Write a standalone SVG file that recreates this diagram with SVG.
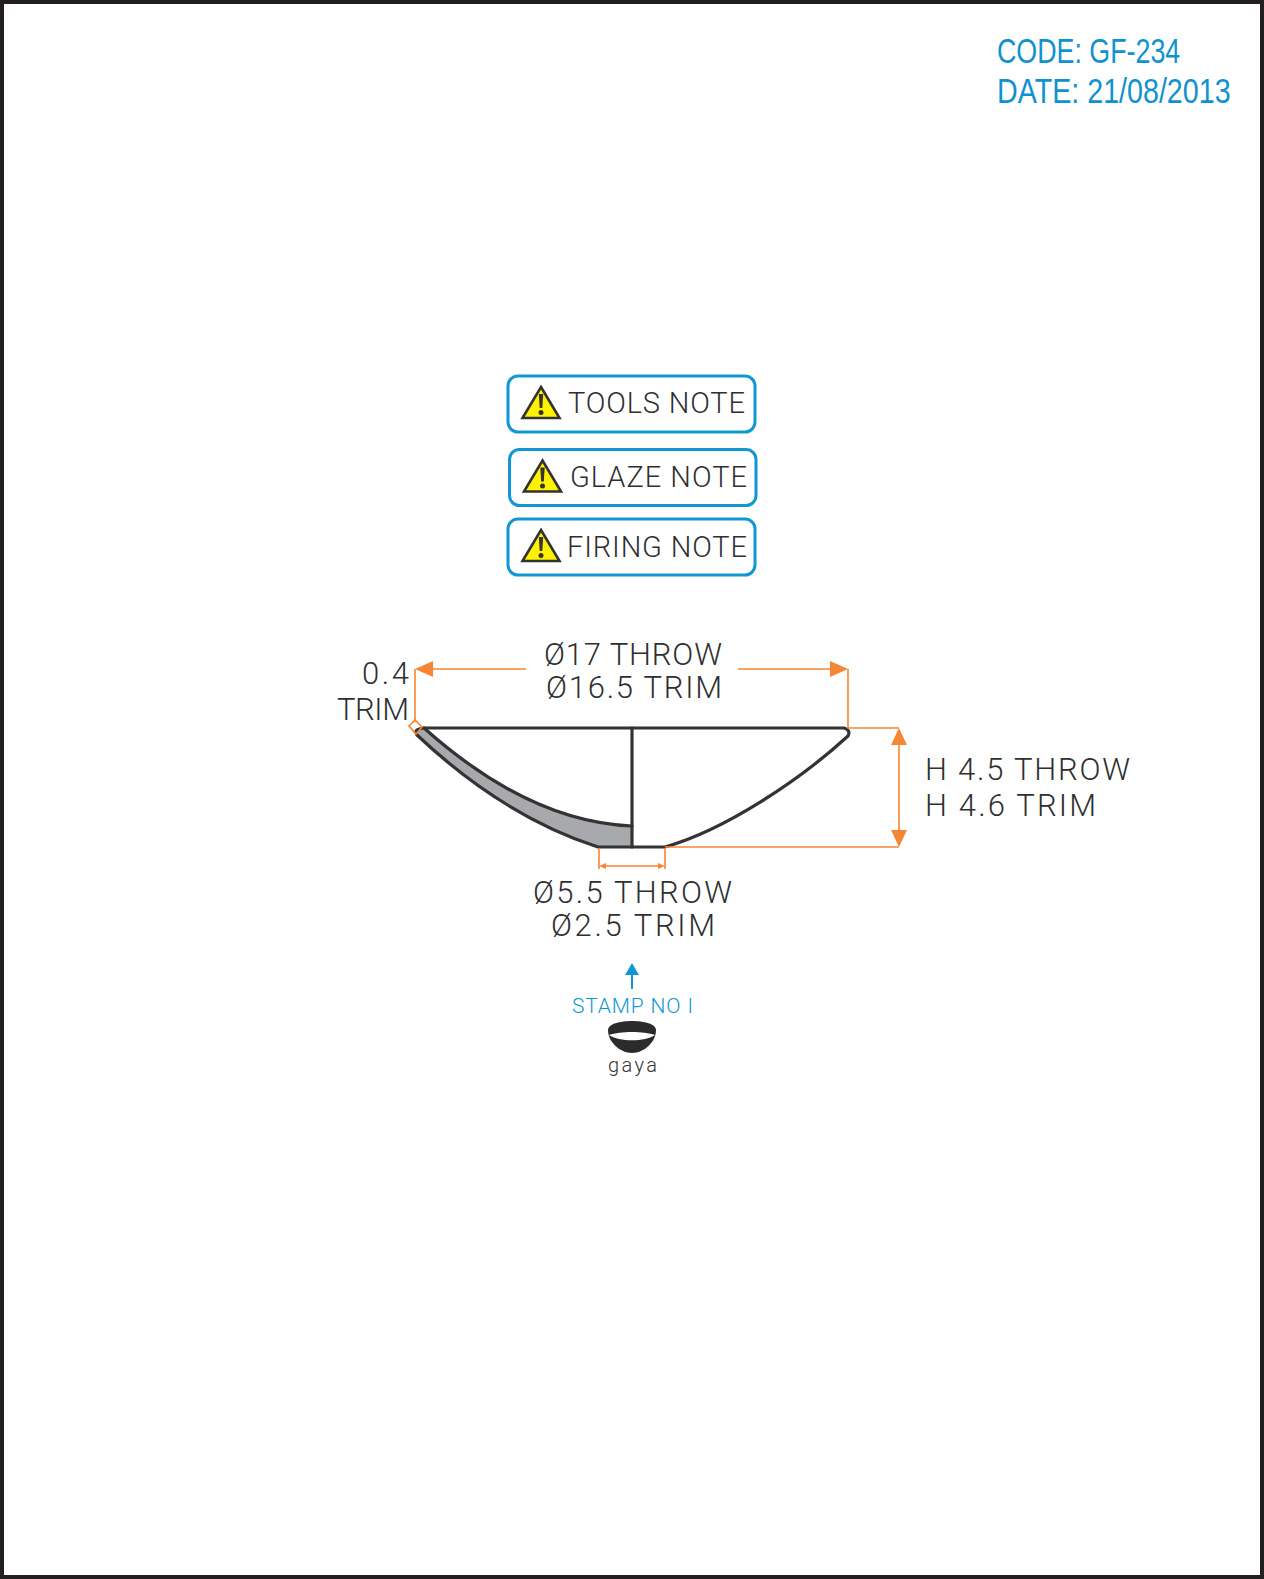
<svg xmlns="http://www.w3.org/2000/svg" width="1264" height="1579" viewBox="0 0 1264 1579">
<style>
.t{font-family:"Roboto","Liberation Sans",sans-serif;font-weight:300;fill:#2f2f31}
.n{font-size:29px}
.d{font-size:31px}
.h{font-family:"Liberation Sans",sans-serif;font-size:36px;fill:#0f92cf}
.dim{fill:none;stroke:#f58634;stroke-width:1.6}
.ah{fill:#f58634}
.box{fill:#fff;stroke:#1197d4;stroke-width:3}
.tri{fill:#fff200;stroke:#333;stroke-width:2.6;stroke-linejoin:miter}
.ex{fill:#333}
.ln{fill:none;stroke:#333;stroke-width:3.200;stroke-linecap:round;stroke-linejoin:round}
</style>
<defs>
<g id="warn">
<path class="tri" d="M0 -31 L18.500 0 L-18.500 0 Z"/>
<path class="ex" d="M-2.200 -24 H2.200 L1.300 -10 H-1.300 Z"/>
<circle class="ex" cx="0" cy="-5.500" r="2.500"/>
</g>
</defs>
<rect x="2" y="2" width="1260" height="1575" fill="#fff" stroke="#231f20" stroke-width="4"/>
<g id="header">
<text class="h" transform="translate(997 63) scale(0.8 1)" textLength="229" lengthAdjust="spacingAndGlyphs">CODE: GF-234</text>
<text class="h" transform="translate(997 103) scale(0.8 1)" textLength="292" lengthAdjust="spacingAndGlyphs">DATE: 21/08/2013</text>
</g>
<g id="note-tools">
<rect class="box" x="508" y="376" width="247" height="56" rx="10"/>
<use href="#warn" x="541" y="418"/>
<text class="t n" x="568" y="413" textLength="177">TOOLS NOTE</text>
</g>
<g id="note-glaze">
<rect class="box" x="509.500" y="449.500" width="246.500" height="56" rx="10"/>
<use href="#warn" x="542.500" y="491.500"/>
<text class="t n" x="570" y="487" textLength="177">GLAZE NOTE</text>
</g>
<g id="note-firing">
<rect class="box" x="508" y="519" width="247" height="56" rx="10"/>
<use href="#warn" x="541" y="561"/>
<text class="t n" x="567" y="557" textLength="180">FIRING NOTE</text>
</g>
<g id="bowl">
<path d="M416 733 Q414 729 420 728 H424 C480 778 550 823 632 826 V847 H598 C530 825 470 785 416 733 Z" fill="#a7a9ac" stroke="none"/>
<path class="ln" d="M424 728 H844 Q851 730 848 736 C800 780 725 830 665 847 H598 C530 825 470 785 417 735 Q413 729 424 728"/>
<path class="ln" d="M424 728 C480 778 550 823 632 826"/>
<path class="ln" d="M632 728 V847"/>
</g>
<g id="connectors">
<path class="dim" d="M526 669 H430 M415 669 V722 M738 669 H832 M848 669 V728 H899 M899 740 V835 M665 847 H899 M599 848 V869 M665 848 V869 M603 866 H661"/>
<path class="dim" d="M409 726 L415 720 L422 727 L416 734 Z" stroke-width="1.200"/>
<path class="ah" d="M415 669 L433 661 V677 Z M848 669 L830 661 V677 Z M899 728 L907 745 H891 Z M899 847 L891 830 H907 Z M599 866 L606 863 V869 Z M665 866 L658 863 V869 Z"/>
<path d="M632 975 V989" fill="none" stroke="#1197d4" stroke-width="2"/>
<path d="M632 963 L639 975 H625 Z" fill="#1197d4"/>
</g>
<g id="dim-labels">
<text class="t d" x="544" y="665" textLength="178">Ø17 THROW</text>
<text class="t d" x="546" y="698" textLength="176">Ø16.5 TRIM</text>
<text class="t d" x="362" y="684" textLength="47">0.4</text>
<text class="t d" x="337" y="720" textLength="72">TRIM</text>
<text class="t d" x="925" y="780" textLength="205">H 4.5 THROW</text>
<text class="t d" x="925" y="816" textLength="171">H 4.6 TRIM</text>
<text class="t d" x="533" y="903" textLength="199">Ø5.5 THROW</text>
<text class="t d" x="551" y="936" textLength="164">Ø2.5 TRIM</text>
</g>
<g id="stamp">
<text x="572" y="1013" textLength="121" style="font-family:Roboto,sans-serif;font-weight:300;font-size:21px;fill:#1197d4">STAMP NO I</text>
<path d="M608 1030 C608 1024 620 1021 632 1021 C644 1021 656 1024 656 1030 C656 1042 644 1053 632 1053 C620 1053 608 1042 608 1030 Z" fill="#2b2b2d"/>
<path d="M609 1035 C620 1031 644 1031 655 1035 C645 1042 619 1042 609 1035 Z" fill="#fff"/>
<text x="608" y="1072" textLength="49" style="font-family:Roboto,sans-serif;font-weight:300;font-size:20px;fill:#333">gaya</text>
</g>
</svg>
